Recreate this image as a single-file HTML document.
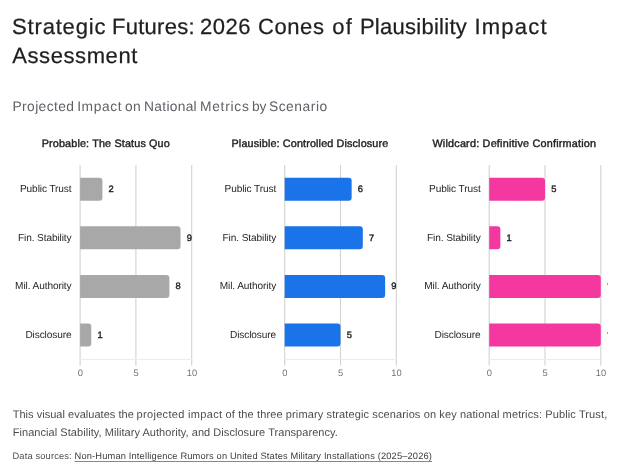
<!DOCTYPE html>
<html lang="en"><head><meta charset="utf-8"><title>Strategic Futures: 2026 Cones of Plausibility Impact Assessment</title>
<style>
html,body{margin:0;padding:0;background:#fff;}
body{width:620px;height:475px;position:relative;overflow:hidden;font-family:"Liberation Sans",sans-serif;color:#1f1f1f;text-rendering:geometricPrecision;}
h1,h2,h3,p,figure,footer,main,section{margin:0;padding:0;font-size:inherit;font-weight:normal;}
.t{position:absolute;white-space:pre;display:block;}
.h1{font-size:22px;line-height:29px;-webkit-text-stroke:0.25px #1f1f1f;color:#1f1f1f;}
.sub{font-size:13.8px;line-height:18px;color:#5f6368;}
.pt{font-size:10.8px;line-height:16px;font-weight:normal;-webkit-text-stroke:0.4px #1f1f1f;color:#1f1f1f;}
.cat{width:100px;text-align:right;font-size:10.1px;line-height:16px;letter-spacing:-0.1px;color:#1f1f1f;}
.val{font-size:9.3px;line-height:16px;font-weight:normal;-webkit-text-stroke:0.4px #1f1f1f;color:#1f1f1f;}
.ax{width:40px;text-align:center;font-size:9.3px;line-height:14px;color:#70757a;}
.p{font-size:11px;line-height:18px;color:#4a4d50;}
.src{font-size:9.3px;line-height:14px;color:#4a4d50;}
.src u{text-decoration:underline;color:#3a3d40;text-decoration-thickness:1px;text-decoration-color:#85888c;text-underline-offset:1.5px;}
svg{position:absolute;left:0;top:0;pointer-events:none;}
</style></head><body>
<h1><span id="h1w0" class="t h1" style="left:12.10px;top:12.35px;letter-spacing:0.809px">Strategic </span>
<span id="h1w1" class="t h1" style="left:112.00px;top:12.35px;letter-spacing:0.272px">Futures: </span>
<span id="h1w2" class="t h1" style="left:199.90px;top:12.35px;letter-spacing:0.516px">2026 </span>
<span id="h1w3" class="t h1" style="left:257.90px;top:12.35px;letter-spacing:0.600px">Cones </span>
<span id="h1w4" class="t h1" style="left:332.32px;top:12.35px;letter-spacing:1.300px">of </span>
<span id="h1w5" class="t h1" style="left:359.90px;top:12.35px;letter-spacing:0.269px">Plausibility </span>
<span id="h1w6" class="t h1" style="left:474.50px;top:12.35px;letter-spacing:1.214px">Impact </span>
<span id="h1b" class="t h1" style="left:12.20px;top:41.35px;letter-spacing:0.597px">Assessment</span></h1>
<h2><span id="subw0" class="t sub" style="left:12.50px;top:98.20px;letter-spacing:0.389px">Projected </span>
<span id="subw1" class="t sub" style="left:77.20px;top:98.20px;letter-spacing:0.599px">Impact </span>
<span id="subw2" class="t sub" style="left:124.90px;top:98.20px;letter-spacing:0.553px">on </span>
<span id="subw3" class="t sub" style="left:144.10px;top:98.20px;letter-spacing:0.281px">National </span>
<span id="subw4" class="t sub" style="left:200.00px;top:98.20px;letter-spacing:0.723px">Metrics </span>
<span id="subw5" class="t sub" style="left:252.10px;top:98.20px;letter-spacing:-0.281px">by </span>
<span id="subw6" class="t sub" style="left:268.90px;top:98.20px;letter-spacing:0.547px">Scenario</span></h2>
<main class="charts">
<section class="chart">
<h3 id="pt0" class="t pt" style="left:41.70px;top:136.10px;letter-spacing:0.150px">Probable: The Status Quo</h3>
<figure><svg width="620" height="475" viewBox="0 0 620 475"><rect x="79.55" y="165.0" width="1.1" height="200.60" fill="#d2d2d2"/>
<rect x="135.35" y="165.0" width="1.1" height="200.60" fill="#d2d2d2"/>
<rect x="191.15" y="165.0" width="1.1" height="200.60" fill="#d2d2d2"/>
<rect x="79.60" y="358.90" width="112.60" height="1" fill="#ebebeb"/>
<path d="M80.10 177.78H99.42a3 3 0 0 1 3 3V197.78a3 3 0 0 1 -3 3H80.10Z" fill="#a8a8a8"/>
<path d="M80.10 226.32H177.54a3 3 0 0 1 3 3V246.32a3 3 0 0 1 -3 3H80.10Z" fill="#a8a8a8"/>
<path d="M80.10 274.88H166.38a3 3 0 0 1 3 3V294.88a3 3 0 0 1 -3 3H80.10Z" fill="#a8a8a8"/>
<path d="M80.10 323.42H88.26a3 3 0 0 1 3 3V343.42a3 3 0 0 1 -3 3H80.10Z" fill="#a8a8a8"/></svg>
<span class="t ax" style="left:60.30px;top:366.0px">0</span>
<span class="t ax" style="left:116.10px;top:366.0px">5</span>
<span class="t ax" style="left:171.90px;top:366.0px">10</span>
<span class="t cat" style="left:-28.50px;top:182.18px">Public Trust</span>
<span class="t val" style="left:108.62px;top:181.08px">2</span>
<span class="t cat" style="left:-28.50px;top:230.72px">Fin. Stability</span>
<span class="t val" style="left:186.74px;top:229.62px">9</span>
<span class="t cat" style="left:-28.50px;top:279.27px">Mil. Authority</span>
<span class="t val" style="left:175.58px;top:278.18px">8</span>
<span class="t cat" style="left:-28.50px;top:327.82px">Disclosure</span>
<span class="t val" style="left:97.46px;top:326.72px">1</span></figure>
</section>
<section class="chart">
<h3 id="pt1" class="t pt" style="left:231.50px;top:136.10px;letter-spacing:0.138px">Plausible: Controlled Disclosure</h3>
<figure><svg width="620" height="475" viewBox="0 0 620 475"><rect x="284.15" y="165.0" width="1.1" height="200.60" fill="#d2d2d2"/>
<rect x="339.95" y="165.0" width="1.1" height="200.60" fill="#d2d2d2"/>
<rect x="395.75" y="165.0" width="1.1" height="200.60" fill="#d2d2d2"/>
<rect x="284.20" y="358.90" width="112.60" height="1" fill="#ebebeb"/>
<path d="M284.70 177.78H348.66a3 3 0 0 1 3 3V197.78a3 3 0 0 1 -3 3H284.70Z" fill="#1a73e8"/>
<path d="M284.70 226.32H359.82a3 3 0 0 1 3 3V246.32a3 3 0 0 1 -3 3H284.70Z" fill="#1a73e8"/>
<path d="M284.70 274.88H382.14a3 3 0 0 1 3 3V294.88a3 3 0 0 1 -3 3H284.70Z" fill="#1a73e8"/>
<path d="M284.70 323.42H337.50a3 3 0 0 1 3 3V343.42a3 3 0 0 1 -3 3H284.70Z" fill="#1a73e8"/></svg>
<span class="t ax" style="left:264.90px;top:366.0px">0</span>
<span class="t ax" style="left:320.70px;top:366.0px">5</span>
<span class="t ax" style="left:376.50px;top:366.0px">10</span>
<span class="t cat" style="left:176.10px;top:182.18px">Public Trust</span>
<span class="t val" style="left:357.86px;top:181.08px">6</span>
<span class="t cat" style="left:176.10px;top:230.72px">Fin. Stability</span>
<span class="t val" style="left:369.02px;top:229.62px">7</span>
<span class="t cat" style="left:176.10px;top:279.27px">Mil. Authority</span>
<span class="t val" style="left:391.34px;top:278.18px">9</span>
<span class="t cat" style="left:176.10px;top:327.82px">Disclosure</span>
<span class="t val" style="left:346.70px;top:326.72px">5</span></figure>
</section>
<section class="chart">
<h3 id="pt2" class="t pt" style="left:432.40px;top:136.10px;letter-spacing:0.222px">Wildcard: Definitive Confirmation</h3>
<figure><svg width="620" height="475" viewBox="0 0 620 475"><rect x="488.65" y="165.0" width="1.1" height="200.60" fill="#d2d2d2"/>
<rect x="544.45" y="165.0" width="1.1" height="200.60" fill="#d2d2d2"/>
<rect x="600.25" y="165.0" width="1.1" height="200.60" fill="#d2d2d2"/>
<rect x="488.70" y="358.90" width="112.60" height="1" fill="#ebebeb"/>
<path d="M489.20 177.78H542.00a3 3 0 0 1 3 3V197.78a3 3 0 0 1 -3 3H489.20Z" fill="#f538a0"/>
<path d="M489.20 226.32H497.36a3 3 0 0 1 3 3V246.32a3 3 0 0 1 -3 3H489.20Z" fill="#f538a0"/>
<path d="M489.20 274.88H597.80a3 3 0 0 1 3 3V294.88a3 3 0 0 1 -3 3H489.20Z" fill="#f538a0"/>
<path d="M489.20 323.42H597.80a3 3 0 0 1 3 3V343.42a3 3 0 0 1 -3 3H489.20Z" fill="#f538a0"/></svg>
<span class="t ax" style="left:469.40px;top:366.0px">0</span>
<span class="t ax" style="left:525.20px;top:366.0px">5</span>
<span class="t ax" style="left:581.00px;top:366.0px">10</span>
<span class="t cat" style="left:380.60px;top:182.18px">Public Trust</span>
<span class="t val" style="left:551.20px;top:181.08px">5</span>
<span class="t cat" style="left:380.60px;top:230.72px">Fin. Stability</span>
<span class="t val" style="left:506.56px;top:229.62px">1</span>
<span class="t cat" style="left:380.60px;top:279.27px">Mil. Authority</span>
<span class="t val" style="left:606.70px;top:278.18px;width:1.00px;height:10px;overflow:hidden">10</span>
<span class="t cat" style="left:380.60px;top:327.82px">Disclosure</span>
<span class="t val" style="left:606.70px;top:326.72px;width:1.00px;height:10px;overflow:hidden">10</span></figure>
</section>
</main>
<p><span id="p1a" class="t p" style="left:12.70px;top:406.00px;letter-spacing:0.026px">This visual evaluates the </span>
<span id="p1b" class="t p" style="left:136.60px;top:406.00px;letter-spacing:0.313px">projected impact </span>
<span id="p1c" class="t p" style="left:225.60px;top:406.00px;letter-spacing:0.119px">of the three primary strategic scenarios on key national metrics: Public Trust, </span>
<span id="p2" class="t p" style="left:12.70px;top:424.00px;letter-spacing:0.053px">Financial Stability, Military Authority, and Disclosure Transparency.</span></p>
<footer><span id="src" class="t src" style="left:12.50px;top:449.40px;letter-spacing:0.152px">Data sources: <u>Non-Human Intelligence Rumors on United States Military Installations (2025–2026)</u></span></footer>
</body></html>
